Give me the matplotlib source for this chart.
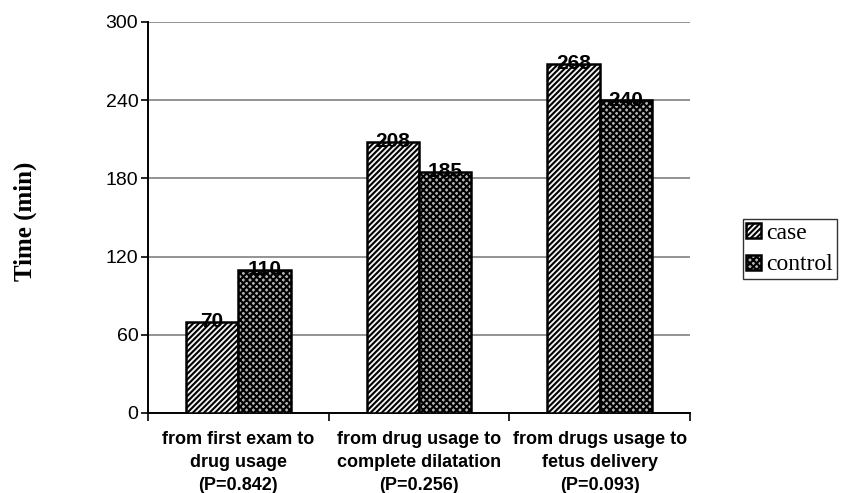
import numpy as np
import matplotlib.pyplot as plt

categories = ['from first exam to\ndrug usage\n(P=0.842)',
              'from drug usage to\ncomplete dilatation\n(P=0.256)',
              'from drugs usage to\nfetus delivery\n(P=0.093)']
case = [70, 208, 268]
control = [110, 185, 240]
yticks = [0, 60, 120, 180, 240, 300]

plt.rcParams['hatch.color'] = '#404040'
plt.rcParams['hatch.linewidth'] = 1.5

fig = plt.figure(figsize=(8.49, 4.93), dpi=100)
ax = fig.add_axes([0.1743, 0.1623, 0.6384, 0.7931])

x = np.arange(len(categories))
w = 0.29
b1 = ax.bar(x - w / 2, case, w, facecolor='#f4f4f4', edgecolor='black',
            linewidth=1.8, hatch='//////', label='case', zorder=3)
b2 = ax.bar(x + w / 2, control, w, facecolor='#b4b4b4', edgecolor='black',
            linewidth=1.8, hatch='xxxxx', label='control', zorder=3)

# value labels sit on the top edge of each bar
for bars, vals in ((b1, case), (b2, control)):
    for r, v in zip(bars, vals):
        ax.text(r.get_x() + r.get_width() / 2, v, str(v), ha='center', va='center',
                fontsize=15, fontweight='bold', family='Liberation Sans', zorder=4)

ax.set_xlim(-0.5, 2.5)
ax.set_ylim(0, 300)
ax.set_yticks(yticks)
ax.set_yticklabels([str(t) for t in yticks], family='Liberation Sans', fontsize=14)
ax.yaxis.grid(True, color='#808080', linewidth=1.2, zorder=0)

ax.set_xticks(x)
ax.set_xticklabels(categories, family='Liberation Sans', fontsize=13,
                   fontweight='bold', linespacing=1.45)
ax.tick_params(axis='x', length=0, pad=13)
ax.set_xticks(np.arange(-0.5, 3.0, 1.0), minor=True)
ax.tick_params(axis='x', which='minor', length=6, width=1.2)
ax.tick_params(axis='y', length=5, width=1.2, direction='out', pad=2)

for s in ('top', 'right'):
    ax.spines[s].set_visible(False)
ax.spines['left'].set_linewidth(1.4)
ax.spines['bottom'].set_linewidth(1.4)

ax.set_ylabel('Time (min)', family='Liberation Serif', fontsize=18,
              fontweight='bold', va='bottom')
ax.yaxis.set_label_coords(-0.205, 0.49)

leg = fig.legend(loc='lower left', bbox_to_anchor=(0.875, 0.434),
                 prop={'family': 'Liberation Serif', 'size': 17},
                 frameon=True, fancybox=False, edgecolor='black',
                 handlelength=0.6, handleheight=0.6, handletextpad=0.25,
                 labelspacing=0.45, borderpad=0.15, borderaxespad=0)
leg.get_frame().set_linewidth(1.0)

fig.savefig('out.png', dpi=100)
